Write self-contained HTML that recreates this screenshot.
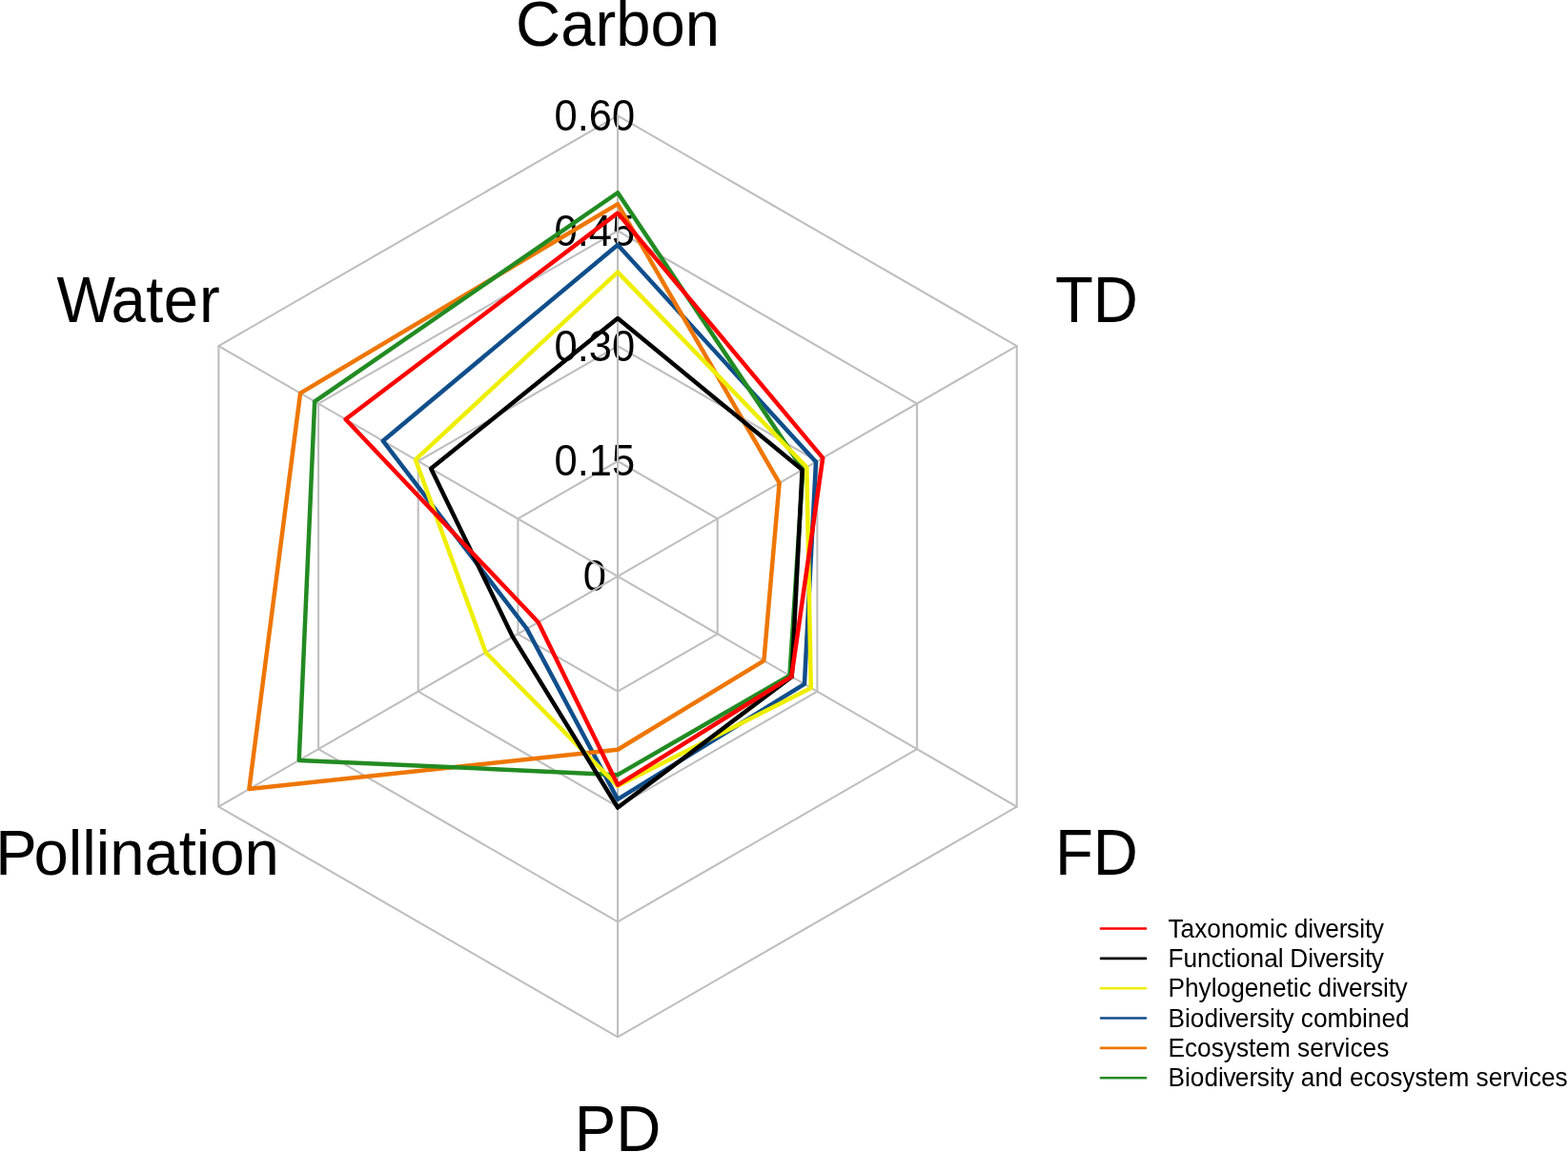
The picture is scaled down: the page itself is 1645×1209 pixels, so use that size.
<!DOCTYPE html>
<html lang="en">
<head>
<meta charset="utf-8">
<title>Radar chart</title>
<style>
html,body{margin:0;padding:0;background:#fff;}
body{width:1645px;height:1209px;overflow:hidden;}
svg{display:block;}
text{font-family:"Liberation Sans",Arial,Helvetica,sans-serif;fill:#000;}
.ax{font-size:43.50px;text-anchor:middle;}
.lab{font-size:65.25px;text-anchor:middle;}
.leg{font-size:26.25px;}
.g{fill:none;stroke:#bebebe;stroke-width:2.08;stroke-linejoin:round;stroke-linecap:round;}
.d{fill:none;stroke-width:4.50;stroke-linejoin:round;}
.k{fill:none;stroke-width:2.60;stroke-linecap:round;}
</style>
</head>
<body>
<svg width="1645" height="1209" viewBox="0 0 1645 1209">
<rect width="1645" height="1209" fill="#fff"/>
<text class="ax" transform="translate(623.88 620.35) scale(1 1.0450)">0</text>
<polygon class="g" points="648.05,483.99 752.72,544.42 752.72,665.28 648.05,725.71 543.38,665.28 543.38,544.42"/>
<text class="ax" transform="translate(623.88 499.49) scale(1 1.0450)">0.15</text>
<polygon class="g" points="648.05,363.12 857.39,483.99 857.39,725.71 648.05,846.58 438.71,725.71 438.71,483.99"/>
<text class="ax" transform="translate(623.88 378.62) scale(1 1.0450)">0.30</text>
<polygon class="g" points="648.05,242.26 962.06,423.56 962.06,786.14 648.05,967.44 334.04,786.14 334.04,423.56"/>
<text class="ax" transform="translate(623.88 257.76) scale(1 1.0450)">0.45</text>
<polygon class="g" points="648.05,121.40 1066.73,363.13 1066.73,846.58 648.05,1088.30 229.37,846.58 229.37,363.13"/>
<text class="ax" transform="translate(623.88 136.90) scale(1 1.0450)">0.60</text>
<line class="g" x1="648.05" y1="604.85" x2="648.05" y2="121.40"/>
<line class="g" x1="648.05" y1="604.85" x2="1066.73" y2="363.13"/>
<line class="g" x1="648.05" y1="604.85" x2="1066.73" y2="846.58"/>
<line class="g" x1="648.05" y1="604.85" x2="648.05" y2="1088.30"/>
<line class="g" x1="648.05" y1="604.85" x2="229.37" y2="846.58"/>
<line class="g" x1="648.05" y1="604.85" x2="229.37" y2="363.13"/>
<polygon class="d" stroke="#104e8b" points="648.05,256.90 855.98,484.80 843.95,717.96 648.05,838.85 552.70,659.90 401.75,462.65"/>
<polygon class="d" stroke="#ee7600" points="648.05,214.15 817.63,506.95 801.42,693.40 648.05,786.71 261.37,828.10 315.09,412.62"/>
<polygon class="d" stroke="#228b22" points="648.05,202.23 842.33,492.69 828.46,709.01 648.05,813.15 313.72,797.88 330.15,421.31"/>
<polygon class="d" stroke="#eeee00" points="648.05,285.61 846.35,490.36 850.79,721.90 648.05,824.85 509.69,684.74 435.92,482.38"/>
<polygon class="d" stroke="#000000" points="648.05,334.05 841.60,493.11 830.69,710.30 648.05,847.55 537.96,668.41 452.16,491.75"/>
<polygon class="d" stroke="#ff0000" points="648.05,223.56 863.19,480.64 830.35,710.10 648.05,823.85 564.65,653.00 362.58,440.04"/>
<text class="lab" transform="translate(648.05 48.07) scale(1 1.0350)">Carbon</text>
<text class="lab" transform="translate(1150.47 338.14) scale(1 1.0440)">TD</text>
<text class="lab" transform="translate(1150.47 918.28) scale(1 1.0440)">FD</text>
<text class="lab" transform="translate(648.05 1208.35) scale(1 1.0440)">PD</text>
<text class="lab" transform="translate(144.63 918.28) scale(1 1.0250)" dx="-0.5 -3.5">Pollination</text>
<text class="lab" transform="translate(145.03 338.14) scale(1 1.0450)" dx="0 -2 0.3 0.5 0.9">Water</text>
<line class="k" x1="1155.0" y1="974.55" x2="1202.0" y2="974.55" stroke="#ff0000"/>
<text class="leg" transform="translate(1225.50 983.60) scale(1 1.0300)" dx="0 0 0 0 0 0 0 0 0 0 -0.5 0 -0.4 -0.7 0 -0.4 0 0 -0.6">Taxonomic diversity</text>
<line class="k" x1="1155.0" y1="1005.89" x2="1202.0" y2="1005.89" stroke="#000000"/>
<text class="leg" transform="translate(1225.50 1014.94) scale(1 1.0300)" dx="0 0 0 0 0 0 0 0 0 0 0 -0.5 0 -0.4 -0.7 0 -0.4 0 0 -0.6">Functional Diversity</text>
<line class="k" x1="1155.0" y1="1037.23" x2="1202.0" y2="1037.23" stroke="#eeee00"/>
<text class="leg" transform="translate(1225.50 1046.28) scale(1 1.0300)" dx="0 0 0 0 0 0 0 0 0 0 0 0 0 -0.5 0 -0.4 -0.7 0 -0.4 0 0 -0.6">Phylogenetic diversity</text>
<line class="k" x1="1155.0" y1="1068.57" x2="1202.0" y2="1068.57" stroke="#104e8b"/>
<text class="leg" transform="translate(1225.50 1077.62) scale(1 1.0300)" dx="0 0 0 0 0 -0.4 -0.7 0 -0.4 0 0 -0.6">Biodiversity combined</text>
<line class="k" x1="1155.0" y1="1099.91" x2="1202.0" y2="1099.91" stroke="#ee7600"/>
<text class="leg" transform="translate(1225.50 1108.96) scale(1 1.0300)">Ecosystem services</text>
<line class="k" x1="1155.0" y1="1131.25" x2="1202.0" y2="1131.25" stroke="#228b22"/>
<text class="leg" transform="translate(1225.50 1140.30) scale(1 1.0300)" dx="0 0 0 0 0 -0.4 -0.7 0 -0.4 0 0 -0.6">Biodiversity and ecosystem services</text>
</svg>
</body>
</html>
